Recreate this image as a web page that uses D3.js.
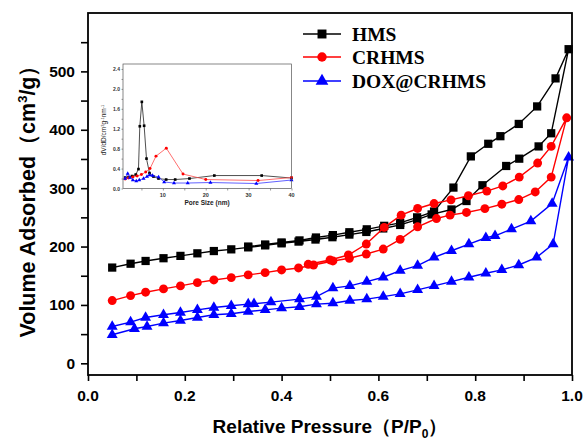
<!DOCTYPE html>
<html><head><meta charset="utf-8">
<script src="https://cdn.jsdelivr.net/npm/d3@7"></script>
<style>body{margin:0;background:#fff}svg{display:block}</style>
</head><body>
<svg id="c" width="588" height="443"></svg>
<script>
// ---------- main isotherm data ----------
const seriesNames = ["HMS", "CRHMS", "DOX@CRHMS"];
const seriesColors = ["#000000", "#ff0000", "#0000ff"];

const hmsAdsP = [0.05,0.088,0.119,0.156,0.191,0.226,0.26,0.296,0.331,0.366,0.40,0.435,0.47,0.505,0.54,0.575,0.61,0.645,0.68,0.71,0.751,0.782,0.815,0.864,0.891,0.931,0.957,0.993];
const hmsAdsV = [164,170.6,175.3,180,184,188.4,192.3,195.2,198.6,202,205.5,208.5,212,216,220.5,225,231,237,246,255,263.5,278,305,338,350.5,371.5,394,538];
const hmsDesP = [0.966,0.928,0.89,0.852,0.827,0.791,0.755,0.715,0.68,0.645,0.612,0.576,0.54,0.506,0.471,0.437,0.40,0.366,0.331];
const hmsDesV = [488,440,410,389,376,354.4,301,260,250,240.5,235.5,229.5,224.5,219.6,215.5,210.5,207,203.5,200];

const crAdsP = [0.05,0.088,0.119,0.156,0.191,0.226,0.26,0.296,0.331,0.366,0.40,0.435,0.466,0.506,0.54,0.575,0.61,0.645,0.681,0.72,0.748,0.782,0.82,0.855,0.89,0.924,0.957,0.989];
const crAdsV = [107.5,116,121.8,127.5,132.6,138.2,142.8,146.8,151.4,155.3,159.9,163.3,168.4,175.3,179.9,187.2,195.7,212.3,233.8,248,253.8,258.4,265,272.5,280.5,293.5,319,420.5];
const crDesP = [0.957,0.929,0.891,0.857,0.824,0.786,0.75,0.715,0.681,0.647,0.612,0.575,0.538,0.5,0.455];
const crDesV = [371.5,343,319,303.8,295,287,280,273.7,265.2,253.8,232.8,204.3,185.5,177,169.6];

const doxAdsP = [0.05,0.096,0.122,0.156,0.191,0.226,0.26,0.296,0.331,0.366,0.40,0.437,0.472,0.506,0.541,0.576,0.61,0.645,0.681,0.715,0.751,0.787,0.822,0.855,0.89,0.927,0.961,0.993];
const doxAdsV = [49,59.2,63.1,68.9,73.4,78.5,83.1,84.8,88.7,91.6,94.5,96.8,101.4,103,107.5,110,114.3,119,125.8,132.6,140,147.4,154.3,160,168.4,181.6,204.3,353];
const doxDesP = [0.959,0.915,0.875,0.841,0.822,0.787,0.751,0.715,0.681,0.645,0.61,0.576,0.541,0.506,0.472,0.437,0.378,0.343,0.331,0.296,0.26,0.226,0.191,0.156,0.119,0.088,0.05];
const doxDesV = [273.7,243.5,229.9,218.4,215,204.3,192.8,181.6,167.2,158.7,147.4,140,132.6,128.7,114.3,110,104.8,101.9,101.4,98.5,95.6,91.6,87,83.1,78.5,70.6,63.1];

const xTicksMain = [0,0.2,0.4,0.6,0.8,1.0];
const yTicksMain = [0,100,200,300,400,500];

// ---------- inset pore size distribution ----------
const hmsPoreD = [1.2,2.0,2.8,3.68,4.31,4.62,5.09,5.63,6.18,6.88,7.81,8.98,10.77,12.87,16.2,22.0,33.05,40];
const hmsPoreV = [0.22,0.23,0.25,0.28,0.39,1.25,1.74,1.26,0.6,0.31,0.24,0.2,0.18,0.18,0.2,0.26,0.26,0.21];
const crPoreD = [1.2,2.0,3.0,4.0,5.0,6.0,7.0,8.4,10.8,14.7,20.0,32.2,40];
const crPoreV = [0.19,0.21,0.23,0.25,0.28,0.33,0.4,0.65,0.81,0.29,0.18,0.16,0.22];
const doxPoreD = [1.2,1.8,2.3,3.0,3.8,4.5,5.5,6.3,6.9,7.6,9.0,10.3,12.6,15.8,21.1,31.8,40];
const doxPoreV = [0.2,0.3,0.22,0.17,0.15,0.17,0.2,0.24,0.27,0.26,0.23,0.13,0.11,0.11,0.12,0.1,0.17];
const xTicksInset = [10,20,30,40];
const yTicksInset = [0.0,0.4,0.8,1.2,1.6,2.0,2.4];

// ---------- drawing ----------
const svg = d3.select("#c");
const sans = "'Liberation Sans', Arial, sans-serif";
const serif = "'Liberation Serif', 'Times New Roman', serif";

const L = 88, R = 572, T = 13, B = 375;
const x = d3.scaleLinear().domain([0, 1]).range([L, R]);
const y = d3.scaleLinear().domain([-20, 600]).range([B, T]);

const zip = (p, v) => p.map((d, i) => [d, v[i]]);
const mainSeries = [
  {pts: zip(hmsAdsP, hmsAdsV).concat(zip(hmsDesP, hmsDesV)), sym: d3.symbolSquare, size: 68},
  {pts: zip(crAdsP, crAdsV).concat(zip(crDesP, crDesV)), sym: d3.symbolCircle, size: 62},
  {pts: zip(doxAdsP, doxAdsV).concat(zip(doxDesP, doxDesV)), sym: d3.symbolTriangle, size: 52}
];

const line = d3.line().x(d => x(d[0])).y(d => y(d[1]));
mainSeries.forEach((s, i) => {
  const g = svg.append("g");
  g.append("path").attr("d", line(s.pts)).attr("fill", "none")
    .attr("stroke", seriesColors[i]).attr("stroke-width", 1.4);
  g.selectAll("path.m").data(s.pts).join("path").attr("class", "m")
    .attr("transform", d => `translate(${x(d[0])},${y(d[1])})`)
    .attr("d", d3.symbol().type(s.sym).size(s.size))
    .attr("fill", seriesColors[i]);
});

// frame
svg.append("rect").attr("x", L).attr("y", T).attr("width", R - L).attr("height", B - T)
  .attr("fill", "none").attr("stroke", "#000").attr("stroke-width", 1.8);

// x axis
const xAx = svg.append("g").attr("transform", `translate(0,${B})`)
  .call(d3.axisBottom(x).tickValues(d3.range(0, 1.01, 0.1)).tickSize(6).tickFormat(() => ""));
xAx.select(".domain").remove();
xAx.selectAll("line").attr("stroke-width", 1.6);
xAx.selectAll("text").remove();
svg.append("g").selectAll("text").data(xTicksMain).join("text")
  .attr("x", d => x(d)).attr("y", 401).attr("text-anchor", "middle")
  .attr("font-family", sans).attr("font-weight", "bold").attr("font-size", 15.5)
  .text(d => d.toFixed(1));

// y axis
const yAx = svg.append("g").attr("transform", `translate(${L},0)`)
  .call(d3.axisLeft(y).tickValues(d3.range(0, 551, 50)).tickSize(7).tickFormat(() => ""));
yAx.select(".domain").remove();
yAx.selectAll("line").attr("stroke-width", 1.6);
svg.append("g").selectAll("text").data(yTicksMain).join("text")
  .attr("x", 75).attr("y", d => y(d) + 5.5).attr("text-anchor", "end")
  .attr("font-family", sans).attr("font-weight", "bold").attr("font-size", 15.5)
  .text(d => d);

// axis titles
const xt = svg.append("text").attr("x", 330).attr("y", 433).attr("text-anchor", "middle")
  .attr("font-family", sans).attr("font-weight", "bold").attr("font-size", 19);
xt.append("tspan").text("Relative Pressure（P/P");
xt.append("tspan").attr("font-size", 12).attr("dy", 5).text("0");
xt.append("tspan").attr("dy", -5).text("）");

const yt = svg.append("text").attr("transform", "translate(35,196) rotate(-90)").attr("text-anchor", "middle")
  .attr("font-family", sans).attr("font-weight", "bold").attr("font-size", 21.5);
yt.append("tspan").text("Volume Adsorbed（cm");
yt.append("tspan").attr("font-size", 13).attr("dy", -8).text("3");
yt.append("tspan").attr("dy", 8).text("/g）");

// legend
const legY = [34, 57, 81];
const legSym = [[d3.symbolSquare, 80], [d3.symbolCircle, 70], [d3.symbolTriangle, 70]];
seriesNames.forEach((n, i) => {
  const g = svg.append("g");
  g.append("line").attr("x1", 303).attr("x2", 341).attr("y1", legY[i]).attr("y2", legY[i])
    .attr("stroke", seriesColors[i]).attr("stroke-width", 1.5);
  g.append("path").attr("transform", `translate(322,${legY[i]})`)
    .attr("d", d3.symbol().type(legSym[i][0]).size(legSym[i][1])).attr("fill", seriesColors[i]);
  g.append("text").attr("x", 352).attr("y", legY[i] + 6.5)
    .attr("font-family", serif).attr("font-weight", "bold").attr("font-size", 19.5)
    .text(n);
});

// ---------- inset ----------
const iL = 123, iR = 291.5, iT = 64, iB = 188.5;
const ix = d3.scaleLinear().domain([0.7, 40]).range([iL, iR]);
const iy = d3.scaleLinear().domain([0, 2.5]).range([iB, iT]);
const insetSeries = [
  {pts: zip(hmsPoreD, hmsPoreV), sym: d3.symbolSquare, size: 7, line: "#222222"},
  {pts: zip(crPoreD, crPoreV), sym: d3.symbolCircle, size: 7, line: "#ff4a4a"},
  {pts: zip(doxPoreD, doxPoreV), sym: d3.symbolTriangle, size: 7, line: "#3a3aff"}
];
const iline = d3.line().x(d => ix(d[0])).y(d => iy(d[1]));
insetSeries.forEach((s, i) => {
  svg.append("path").attr("d", iline(s.pts)).attr("fill", "none")
    .attr("stroke", s.line).attr("stroke-width", 0.8);
  svg.append("g").selectAll("path").data(s.pts).join("path")
    .attr("transform", d => `translate(${ix(d[0])},${iy(d[1])})`)
    .attr("d", d3.symbol().type(s.sym).size(s.size)).attr("fill", seriesColors[i]);
});
svg.append("rect").attr("x", iL).attr("y", iT).attr("width", iR - iL).attr("height", iB - iT)
  .attr("fill", "none").attr("stroke", "#555").attr("stroke-width", 0.7);

const ixAx = svg.append("g").attr("transform", `translate(0,${iB})`)
  .call(d3.axisBottom(ix).tickValues([5,10,15,20,25,30,35,40]).tickSize(2).tickFormat(() => ""));
ixAx.select(".domain").remove();
ixAx.selectAll("line").attr("stroke", "#555").attr("stroke-width", 0.6);
svg.append("g").selectAll("text").data(xTicksInset).join("text")
  .attr("x", d => ix(d)).attr("y", 197).attr("text-anchor", "middle")
  .attr("font-family", sans).attr("font-weight", "bold").attr("font-size", 5.5).attr("fill", "#333")
  .text(d => d);

const iyAx = svg.append("g").attr("transform", `translate(${iL},0)`)
  .call(d3.axisLeft(iy).tickValues(d3.range(0, 2.41, 0.2)).tickSize(1.5).tickFormat(() => ""));
iyAx.select(".domain").remove();
iyAx.selectAll("line").attr("stroke", "#555").attr("stroke-width", 0.6);
svg.append("g").selectAll("text").data(yTicksInset).join("text")
  .attr("x", 120).attr("y", d => iy(d) + 2).attr("text-anchor", "end")
  .attr("font-family", sans).attr("font-weight", "bold").attr("font-size", 5).attr("fill", "#333")
  .text(d => d.toFixed(1));

svg.append("text").attr("x", 207).attr("y", 205).attr("text-anchor", "middle")
  .attr("font-family", sans).attr("font-weight", "bold").attr("font-size", 6.5).attr("fill", "#222")
  .text("Pore Size (nm)");
const iyt = svg.append("text").attr("transform", "translate(106,130) rotate(-90)").attr("text-anchor", "middle")
  .attr("font-family", sans).attr("font-size", 6.5).attr("fill", "#222");
iyt.append("tspan").text("dV/dD/cm");
iyt.append("tspan").attr("font-size", 4).attr("dy", -2.5).text("3");
iyt.append("tspan").attr("dy", 2.5).text("g");
iyt.append("tspan").attr("font-size", 4).attr("dy", -2.5).text("-1");
iyt.append("tspan").attr("dy", 2.5).text("nm");
iyt.append("tspan").attr("font-size", 4).attr("dy", -2.5).text("-1");
</script>
</body></html>
